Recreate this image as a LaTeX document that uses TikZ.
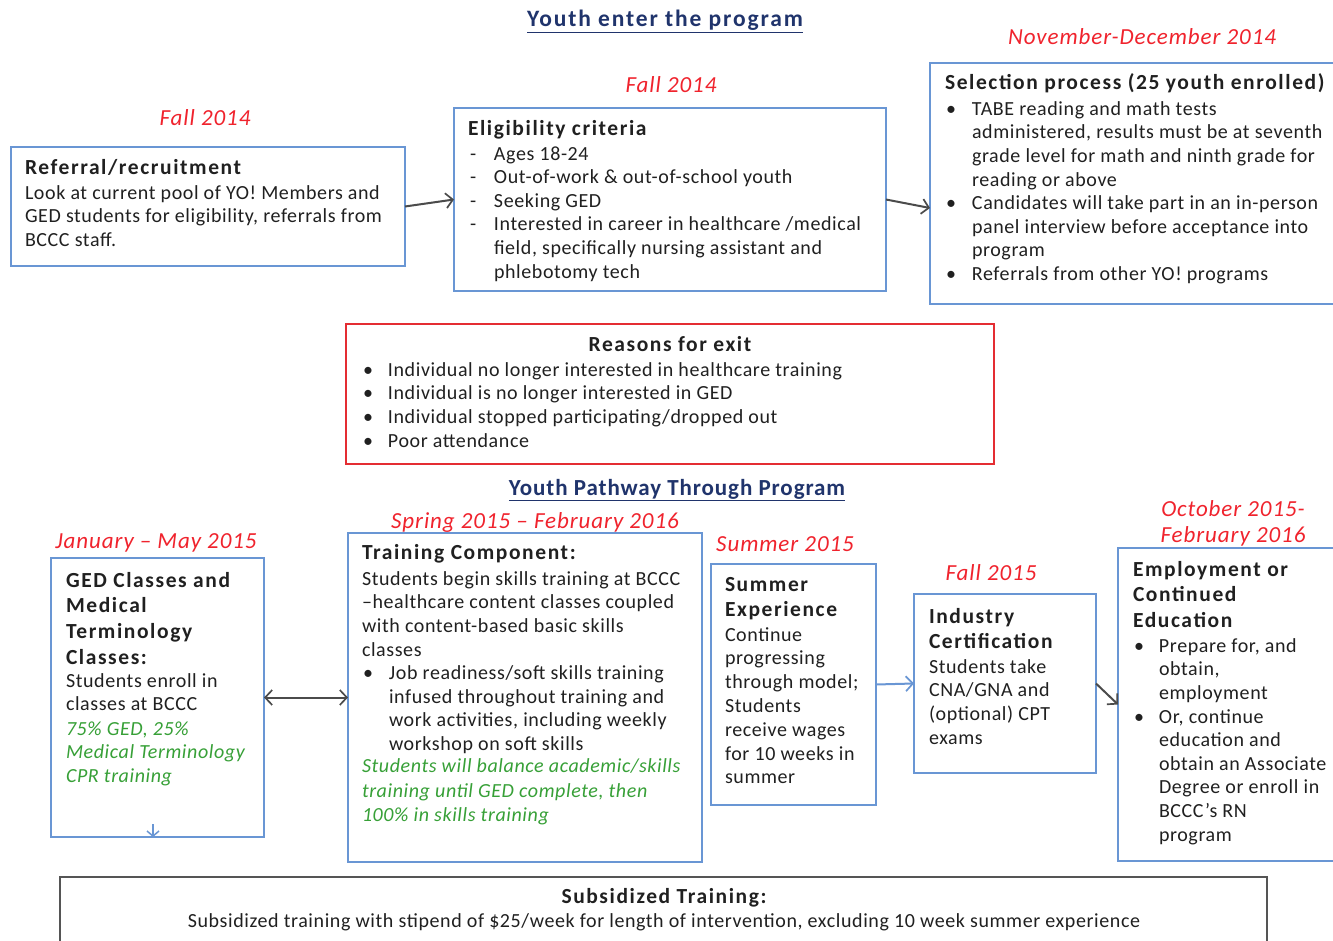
\documentclass[tikz,border=0pt]{standalone}
\usepackage{fontspec}
\setmainfont{Carlito}
\newfontfamily\bodyff[Ligatures=TeX,LetterSpace=3]{Carlito}
\newfontfamily\headff[Ligatures=TeX,LetterSpace=7.4]{Carlito}
\newfontfamily\dateff[Ligatures=TeX,LetterSpace=4]{Carlito}
\newfontfamily\titleff[Ligatures=TeX,LetterSpace=4]{Carlito}
\newfontfamily\topff[Ligatures=TeX,LetterSpace=8]{Carlito}
\usetikzlibrary{arrows.meta}

\definecolor{boxblue}{RGB}{105,150,212}
\definecolor{exitred}{RGB}{228,45,50}
\definecolor{datered}{RGB}{240,35,45}
\definecolor{notegreen}{RGB}{55,160,55}
\definecolor{headnavy}{RGB}{32,52,108}
\definecolor{bodyink}{RGB}{32,32,32}
\definecolor{arrowgrey}{RGB}{75,75,75}
\definecolor{frameink}{RGB}{85,85,85}

\newcommand\bodyfont{\bodyff\fontsize{20}{23.6}\selectfont}
\newcommand\headfont{\headff\bfseries\fontsize{21.5}{26}\selectfont}
\newcommand\bigheadfont{\headff\bfseries\fontsize{21.5}{25.7}\selectfont}
\newcommand\datefont{\dateff\itshape\fontsize{23}{27}\selectfont}
% list prefixes: bullet / dash, and the hanging indent of continuation lines
\newcommand\bul[1]{\makebox[#1][l]{\hspace{1pt}\textbullet}}
\newcommand\dsh[1]{\makebox[#1][l]{\hspace{2pt}-}}
\newcommand\hng[1]{\makebox[#1]{}}

\tikzset{
  x=1pt, y=-1pt,
  box/.style={draw=boxblue, line width=1.8pt, rectangle, inner sep=0pt, outer sep=0pt, anchor=north west},
  exitbox/.style={box, draw=exitred},
  subbox/.style={box, draw=frameink, line width=2.4pt},
  txtbase/.style={anchor=north west, inner sep=0pt, outer sep=0pt, align=left, text=bodyink,
                  execute at begin node=\strut},
  body/.style={txtbase, font=\bodyfont, yshift=12.5pt},
  headln/.style={txtbase, font=\headfont, yshift=18.2pt},
  bighd/.style={txtbase, font=\bigheadfont, yshift=14pt},
  note/.style={txtbase, text=notegreen, font=\bodyfont\itshape, yshift=12.5pt},
  centred/.style={anchor=base, inner sep=0pt, text=bodyink, font=\bodyfont},
  centhead/.style={anchor=base, inner sep=0pt, text=bodyink, font=\headfont},
  datelbl/.style={anchor=base, inner sep=0pt, text=datered, font=\datefont},
  section/.style={anchor=base, inner sep=0pt, text=headnavy},
  flow/.style={draw=arrowgrey, line width=2pt, -{Straight Barb[length=7pt,width=15pt,line width=1.7pt]}},
  bothflow/.style={draw=arrowgrey, line width=2pt, {Straight Barb[length=7pt,width=15pt,line width=1.7pt]}-{Straight Barb[length=7pt,width=15pt,line width=1.7pt]}},
  blueflow/.style={draw=boxblue, line width=2pt, -{Straight Barb[length=7pt,width=15pt,line width=1.7pt]}},
}

\begin{document}
\begin{tikzpicture}
\useasboundingbox (0,0) rectangle (1333,941);
\clip (0,0) rectangle (1333,941);
\fill[white] (0,0) rectangle (1333,941);

% ---------- entry stage ----------
\node[section, font=\topff\bfseries\fontsize{23.5}{27}\selectfont] (title1) at (665,27) {\underline{Youth enter the program}};

\node[datelbl] (d1) at (205,126) {Fall 2014};
\node[box, minimum width=394pt, minimum height=119pt] (ref) at (11,147) {};
\node[headln] (refh) at (25,175) {Referral/recruitment};
\node[body] (refb) at (25,198) {Look at current pool of YO! Members and\\GED students for eligibility, referrals from\\BCCC staff.};

\node[datelbl] (d2) at (671,93) {Fall 2014};
\node[box, minimum width=432pt, minimum height=183pt] (elig) at (454,108) {};
\node[headln] (eligh) at (468,136) {Eligibility criteria};
\node[body] (eligb) at (468,159) {\dsh{26pt}Ages 18-24\\\dsh{26pt}Out-of-work \& out-of-school youth\\\dsh{26pt}Seeking GED\\\dsh{26pt}Interested in career in healthcare /medical\\\hng{26pt}field, specifically nursing assistant and\\\hng{26pt}phlebotomy tech};

\node[datelbl] (d3) at (1142,45) {November-December 2014};
\node[box, minimum width=420pt, minimum height=241pt] (sel) at (930,63) {};
\node[headln] (selh) at (945,90) {Selection process (25 youth enrolled)};
\node[body] (selb) at (945,114) {\bul{27pt}TABE reading and math tests\\\hng{27pt}administered, results must be at seventh\\\hng{27pt}grade level for math and ninth grade for\\\hng{27pt}reading or above\\\bul{27pt}Candidates will take part in an in-person\\\hng{27pt}panel interview before acceptance into\\\hng{27pt}program\\\bul{27pt}Referrals from other YO! programs};

\draw[flow] (ref.east) -- (elig.west);
\draw[flow] (elig.east) -- ([yshift=-24.5pt]sel.west);

% ---------- exit reasons ----------
\node[exitbox, minimum width=648pt, minimum height=140pt] (exit) at (346,324) {};
\node[centhead] (exith) at (670,351) {Reasons for exit};
\node[body] (exitb) at (362,375) {\bul{26pt}Individual no longer interested in healthcare training\\\bul{26pt}Individual is no longer interested in GED\\\bul{26pt}Individual stopped participating/dropped out\\\bul{26pt}Poor attendance};

% ---------- pathway ----------
\node[section, font=\titleff\bfseries\fontsize{23}{27}\selectfont] (title2) at (677,495) {\underline{Youth Pathway Through Program}};

\node[datelbl] (d4) at (156,548) {January -- May 2015};
\node[box, minimum width=213pt, minimum height=279pt] (ged) at (51,558) {};
\node[bighd] (gedh) at (66,586) {GED Classes and\\Medical\\Terminology\\Classes:};
\node[body] (gedb) at (66,686) {Students enroll in\\classes at BCCC};
\node[note] (gedn) at (66,734) {75\% GED, 25\%\\Medical Terminology\\CPR training};
\coordinate (gedtail) at ([xshift=-4.5pt,yshift=13pt]ged.south);
\coordinate (gedtip) at ([xshift=-4.5pt]ged.south);
\draw[draw=boxblue, line width=1.6pt, -{Straight Barb[length=5pt,width=12pt,line width=1.5pt]}] (gedtail) -- (gedtip);

\node[datelbl] (d5) at (535,528) {Spring 2015 -- February 2016};
\node[box, minimum width=354pt, minimum height=329pt] (train) at (348,533) {};
\node[headln] (trainh) at (362,559) {Training Component:};
\node[body] (trainb) at (362,584) {Students begin skills training at BCCC\\--healthcare content classes coupled\\with content-based basic skills\\classes\\\bul{27pt}Job readiness/soft skills training\\\hng{27pt}infused throughout training and\\\hng{27pt}work activities, including weekly\\\hng{27pt}workshop on soft skills};
\node[note, font=\bodyff\itshape\fontsize{20}{24.4}\selectfont, yshift=0.56pt] (trainn) at (362,772) {Students will balance academic/skills\\training until GED complete, then\\100\% in skills training};

\draw[bothflow] (ged.east) -- (train.west);

\node[datelbl] (d6) at (785,551) {Summer 2015};
\node[box, minimum width=165pt, minimum height=241pt] (sum) at (711,564) {};
\node[bighd] (sumh) at (725,591) {Summer\\Experience};
\node[body, font=\bodyff\fontsize{20}{23.8}\selectfont, yshift=0.14pt] (sumb) at (725,640) {Continue\\progressing\\through model;\\Students\\receive wages\\for 10 weeks in\\summer};

\node[datelbl] (d7) at (991,580) {Fall 2015};
\node[box, minimum width=182pt, minimum height=179pt] (ind) at (914,594) {};
\node[bighd] (indh) at (929,622) {Industry\\Certification};
\node[body] (indb) at (929,672) {Students take\\CNA/GNA and\\(optional) CPT\\exams};

\draw[blueflow] (sum.east) -- (ind.west);

\node[datelbl] (d8a) at (1233,516) {October 2015-};
\node[datelbl] (d8b) at (1233,542) {February 2016};
\node[box, minimum width=240pt, minimum height=313pt] (emp) at (1118,548) {};
\node[bighd] (emph) at (1133,575) {Employment or\\Continued\\Education};
\node[body] (empb) at (1133,651) {\bul{26pt}Prepare for, and\\\hng{26pt}obtain,\\\hng{26pt}employment\\\bul{26pt}Or, continue\\\hng{26pt}education and\\\hng{26pt}obtain an Associate\\\hng{26pt}Degree or enroll in\\\hng{26pt}BCCC's RN\\\hng{26pt}program};

\draw[flow] (ind.east) -- (emp.west);

% ---------- stipend ----------
\node[subbox, minimum width=1207pt, minimum height=100pt] (sub) at (60,877) {};
\node[centhead] (subh) at (664,903) {Subsidized Training:};
\node[centred] (subb) at (664,927) {Subsidized training with stipend of \$25/week for length of intervention, excluding 10 week summer experience};
\end{tikzpicture}
\end{document}
